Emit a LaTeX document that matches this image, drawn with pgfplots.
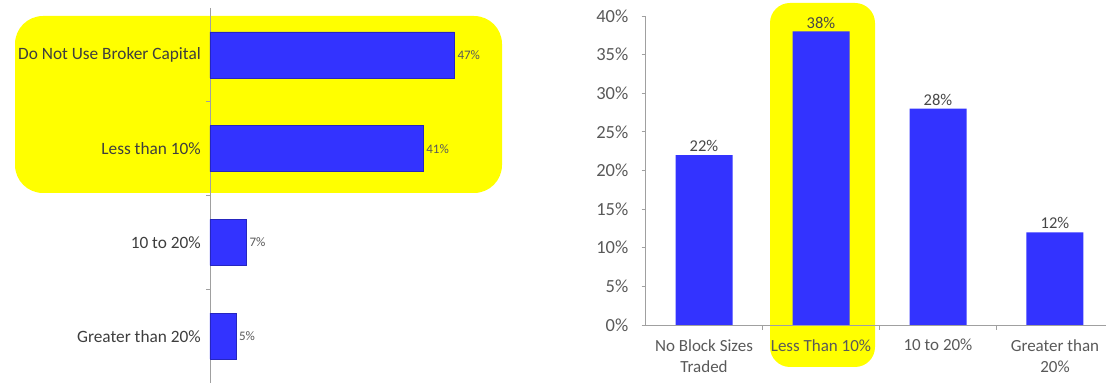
\documentclass[border=0pt]{standalone}
\usepackage{fontspec}
\setmainfont{Carlito}
\usepackage{pgfplots}
\pgfplotsset{compat=1.18}
\definecolor{barblue}{RGB}{51,51,255}
\definecolor{hl}{RGB}{255,255,0}
\definecolor{txt}{RGB}{89,89,89}
\definecolor{axgray}{RGB}{160,160,160}
\begin{document}
\begin{tikzpicture}[x=1pt,y=1pt]
\useasboundingbox (0,0) rectangle (1106,385);
% highlights
\fill[hl, rounded corners=28pt] (15,192) rectangle (502,369);
\fill[hl, rounded corners=20pt] (770,18) rectangle (875,382);
% left chart
\begin{axis}[
  at={(210pt,2pt)}, anchor=south west,
  scale only axis, width=286pt, height=375pt,
  xbar, bar width=46pt,
  xmin=0, xmax=55,
  ymin=-0.5, ymax=3.5, y dir=reverse,
  axis x line=none,
  axis y line*=left,
  axis line style={axgray, line width=0.8pt},
  ytick={0,1,2,3},
  yticklabels={Do Not Use Broker Capital, Less than 10\%, 10 to 20\%, Greater than 20\%},
  yticklabel style={font=\fontsize{17.3}{20}\selectfont, text=txt!70!black, inner sep=0pt, xshift=-9pt},
  major tick length=0pt,
  minor ytick={0.5,1.5,2.5},
  minor tick length=4pt,
  tick align=outside,
  minor tick style={axgray, line width=0.8pt},
  /pgf/number format/assume math mode=true,
  nodes near coords={\pgfmathprintnumber{\pgfplotspointmeta}\%},
  every node near coord/.append style={font=\fontsize{13}{15}\selectfont, text=txt, inner sep=3pt},
  clip=false,
]
\addplot[fill=barblue, draw=barblue!75!black, line width=0.3pt] coordinates {(47,0) (41,1) (7,2) (5,3)};
\end{axis}
% right chart
\begin{axis}[
  at={(645.5pt,60pt)}, anchor=south west,
  scale only axis, width=460.5pt, height=309pt,
  ybar, bar width=57pt,
  xmin=-0.5, xmax=3.436,
  ymin=0, ymax=40,
  axis lines*=left,
  axis line style={axgray, line width=0.8pt},
  ytick={0,5,10,15,20,25,30,35,40},
  yticklabels={0\%,5\%,10\%,15\%,20\%,25\%,30\%,35\%,40\%},
  yticklabel style={font=\fontsize{18.5}{21}\selectfont, text=txt, inner sep=0pt, xshift=-13pt},
  xtick={0,1,2,3},
  xticklabels={No Block Sizes\\Traded, Less Than 10\%, 10 to 20\%, Greater than\\20\%},
  xticklabel style={font=\fontsize{17}{21}\selectfont, text=txt, align=center, anchor=north, inner sep=0pt, yshift=-10pt},
  major x tick style={draw=none},
  minor xtick={0.5,1.5,2.5},
  minor tick length=5pt,
  major tick length=4pt,
  tick align=outside,
  tick style={axgray, line width=0.8pt},
  /pgf/number format/assume math mode=true,
  nodes near coords={\pgfmathprintnumber{\pgfplotspointmeta}\%},
  every node near coord/.append style={font=\fontsize{16.5}{18}\selectfont, text=txt!80!black, inner sep=3pt},
  clip=false,
]
\addplot[fill=barblue, draw=none] coordinates {(0,22) (1,38) (2,28) (3,12)};
\end{axis}
\end{tikzpicture}
\end{document}
